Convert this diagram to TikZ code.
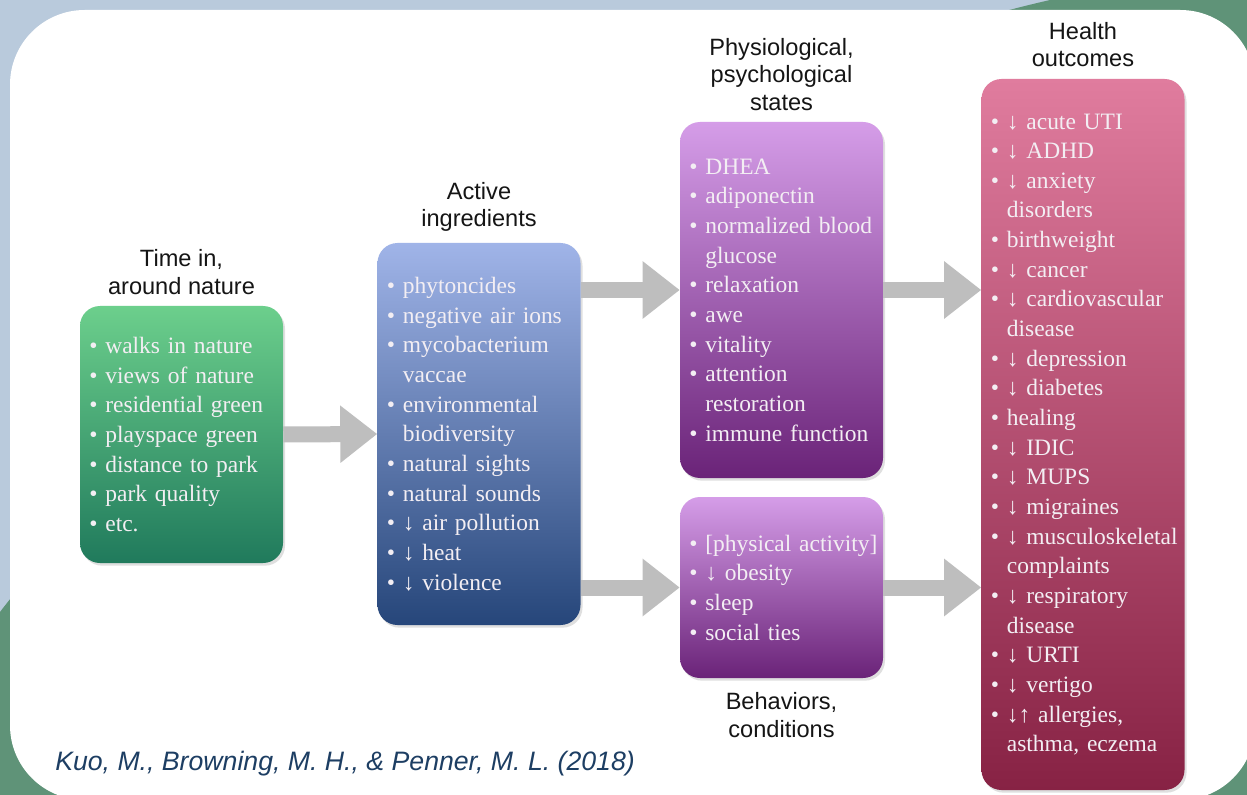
\documentclass[tikz,border=0pt]{standalone}
\usepackage{fontspec}
\setmainfont{Liberation Serif}
\setsansfont{Liberation Sans}
\usetikzlibrary{positioning,arrows.meta,shadows,calc}

\definecolor{bgblue}{HTML}{B9CADC}
\definecolor{bggreen}{HTML}{5F9378}
\definecolor{arrowgray}{HTML}{BEBEBE}
\definecolor{boxtext}{HTML}{F3EEF3}
\definecolor{headblack}{HTML}{151515}
\definecolor{citeblue}{HTML}{1D3E63}

\newcommand{\litem}[1]{\mbox{•\ #1}}
\newcommand{\lcont}[1]{\mbox{\hphantom{•\ }#1}}

\tikzset{
  listbox/.style={rounded corners=15pt, minimum width=152.25pt, text width=138.25pt,
    inner xsep=7pt, align=left, text=boxtext, font=\fontsize{17.6}{22.24}\selectfont,
    drop shadow={opacity=0.25, shadow xshift=1.5pt, shadow yshift=-2pt}},
  headtext/.style={font=\sffamily\fontsize{17.7}{20.8}\selectfont, align=center,
    inner sep=0pt, text=headblack},
  blockarrow/.style={draw=arrowgray, line width=12pt,
    -{Triangle[length=27.75pt, width=41.25pt]}}
}

\begin{document}
\begin{tikzpicture}[x=0.75pt,y=0.75pt,yscale=-1,xscale=1]
\useasboundingbox (0,0) rectangle (1247,795);
\fill[bgblue] (0,0) rectangle (1247,795);
\fill[bggreen] (1050,0) .. controls (700,80) and (200,350) .. (0,612) -- (0,795) -- (1247,795) -- (1247,0) -- cycle;
\fill[white, rounded corners=56pt] (10,10) rectangle (1255,800);

\node[listbox, minimum height=192.75pt, top color={rgb,255:red,108;green,207;blue,140}, bottom color={rgb,255:red,32;green,122;blue,92}] (green) at (181.5,434.5)
  {\litem{walks in nature}\\ \litem{views of nature}\\ \litem{residential green}\\ \litem{playspace green}\\ \litem{distance to park}\\ \litem{park quality}\\ \litem{etc.}};
\node[listbox, minimum height=286.5pt, top color={rgb,255:red,160;green,180;blue,232}, bottom color={rgb,255:red,38;green,70;blue,122}] (blue) at (479,434)
  {\litem{phytoncides}\\ \litem{negative air ions}\\ \litem{mycobacterium}\\ \lcont{vaccae}\\ \litem{environmental}\\ \lcont{biodiversity}\\ \litem{natural sights}\\ \litem{natural sounds}\\ \litem{↓ air pollution}\\ \litem{↓ heat}\\ \litem{↓ violence}};
\node[listbox, minimum height=267pt, top color={rgb,255:red,213;green,157;blue,232}, bottom color={rgb,255:red,106;green,35;blue,120}] (physio) at (781.5,300)
  {\litem{DHEA}\\ \litem{adiponectin}\\ \litem{normalized blood}\\ \lcont{glucose}\\ \litem{relaxation}\\ \litem{awe}\\ \litem{vitality}\\ \litem{attention}\\ \lcont{restoration}\\ \litem{immune function}};
\node[listbox, minimum height=135.75pt, top color={rgb,255:red,213;green,157;blue,232}, bottom color={rgb,255:red,106;green,35;blue,120}] (behav) at (781.5,587.5)
  {\litem{[physical activity]}\\ \litem{↓ obesity}\\ \litem{sleep}\\ \litem{social ties}};
\node[listbox, minimum height=533.25pt, top color={rgb,255:red,224;green,124;blue,158}, bottom color={rgb,255:red,135;green,34;blue,68}] (health) at (1083,434.5)
  {\litem{↓ acute UTI}\\ \litem{↓ ADHD}\\ \litem{↓ anxiety}\\ \lcont{disorders}\\ \litem{birthweight}\\ \litem{↓ cancer}\\ \litem{↓ cardiovascular}\\ \lcont{disease}\\ \litem{↓ depression}\\ \litem{↓ diabetes}\\ \litem{healing}\\ \litem{↓ IDIC}\\ \litem{↓ MUPS}\\ \litem{↓ migraines}\\ \litem{↓ musculoskeletal}\\ \lcont{complaints}\\ \litem{↓ respiratory}\\ \lcont{disease}\\ \litem{↓ URTI}\\ \litem{↓ vertigo}\\ \litem{↓↑ allergies,}\\ \lcont{asthma, eczema}};

\node[headtext, above=8pt of green] (greenhead) {Time in,\\ around nature};
\node[headtext, above=8pt of blue] (bluehead) {Active\\ ingredients};
\node[headtext, above=8pt of physio] (physiohead) {Physiological,\\ psychological\\ states};
\node[headtext, above=8.5pt of health] (healthhead) {Health\\ outcomes};
\node[headtext, below=10.5pt of behav] (behavhead) {Behaviors,\\ conditions};

\coordinate (ptop) at ($(physio.west)+(0,-10)$);
\coordinate (pout) at ($(physio.east)+(0,-10)$);
\draw[blockarrow] (green.east) -- (blue.west);
\draw[blockarrow] (ptop -| blue.east) -- (ptop);
\draw[blockarrow] (behav.west -| blue.east) -- (behav.west);
\draw[blockarrow] (pout) -- (pout -| health.west);
\draw[blockarrow] (behav.east) -- (behav.east -| health.west);

\node[anchor=base west, inner sep=0pt, text=citeblue, font=\sffamily\itshape\fontsize{20}{24}\selectfont] (cite) at (55,770) {Kuo, M., Browning, M. H., \& Penner, M. L. (2018)};
\end{tikzpicture}
\end{document}
